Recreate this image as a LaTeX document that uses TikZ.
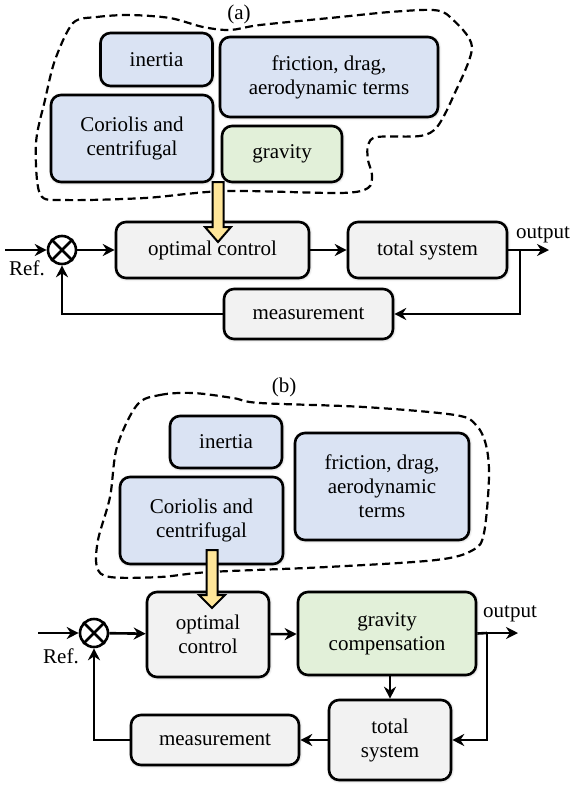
\documentclass[tikz,border=0pt]{standalone}
\usepackage{fontspec}
\setmainfont{Liberation Serif}
\newfontfamily\labelfont{Liberation Serif}
\usetikzlibrary{arrows.meta,shadows.blur}
\definecolor{blueF}{HTML}{DAE3F3}
\definecolor{greenF}{HTML}{E2F0D9}
\definecolor{greyF}{HTML}{F2F2F2}
\definecolor{yellowF}{HTML}{FFE699}
\newcommand\fatdown[4]{% x, top of shaft, base of head, tip
  \draw[fill=yellowF, line width=2pt, line join=miter]
    (#1-5.5,#2) -- (#1+5.5,#2) -- (#1+5.5,#3) -- (#1+13,#3) -- (#1,#4)
    -- (#1-13,#3) -- (#1-5.5,#3) -- cycle;}
\begin{document}
\begin{tikzpicture}[x=1pt,y=-1pt,
  font=\labelfont\fontsize{21}{24}\selectfont,
  blk/.style={draw=black, line width=2.6pt, rounded corners=10pt, align=center,
    inner sep=0pt,
    blur shadow={shadow blur steps=6, shadow xshift=0.5pt, shadow yshift=-0.5pt,
      shadow blur radius=3pt, shadow opacity=35}},
  bluebox/.style={blk, fill=blueF},
  greenbox/.style={blk, fill=greenF},
  greybox/.style={blk, fill=greyF},
  sumnode/.style={circle, draw, line width=2.6pt, fill=white, minimum size=28pt,
    inner sep=0pt},
  arr/.style={line width=2.6pt, -{Stealth[length=12pt,width=12pt]}},
  ln/.style={line width=2.6pt},
  blob/.style={line width=2.2pt, dash pattern=on 8pt off 4.5pt}]
\useasboundingbox (0,0) rectangle (570,785);

% ---------------- (a) ----------------
\node (la) at (239,14) {(a)};
\draw[blob] plot[smooth cycle, tension=0.5] coordinates {
  (73,23) (97,17) (130,15) (170,18) (203,27) (230,30) (260,25) (340,17)
  (390,12) (433,10) (450,17) (472,47) (453,97) (437,127) (420,136)
  (377,137) (368,145) (368,160) (372,175) (368,188) (340,193)
  (225,191) (145,198) (65,200) (40,194) (36,143) (45,100) (55,60)};

\node[bluebox, minimum width=112pt, minimum height=53pt] (ina) at (156.5,59.5) {inertia};
\node[bluebox, minimum width=218pt, minimum height=80pt] (fra) at (329,77)
  {friction, drag,\\aerodynamic terms};
\node[bluebox, minimum width=162pt, minimum height=87pt] (coa) at (132,138.5)
  {Coriolis and\\centrifugal};
\node[greenbox, minimum width=120pt, minimum height=56pt] (gra) at (282,154) {gravity};

\node[greybox, minimum width=193pt, minimum height=56pt] (opa) at (212.5,250) {optimal control};
\node[greybox, minimum width=159pt, minimum height=56pt] (tsa) at (427.5,250) {total system};
\node[greybox, minimum width=169pt, minimum height=50pt] (msa) at (308.5,314) {measurement};
\node[sumnode] (sa) at (62,250) {};
\draw[ln] (sa.north west) -- (sa.south east) (sa.north east) -- (sa.south west);

\fatdown{218}{182}{227}{242}

\coordinate (ina0) at (5,250);
\coordinate (outa) at (549,250);
\coordinate (bra) at (520,250);
\node (refa) at (27,268) {Ref.};
\node (opla) at (543,235) {output};

\draw[arr] (ina0) -- (sa);
\draw[arr] (sa) -- (opa);
\draw[arr] (opa) -- (tsa);
\draw[arr] (tsa) -- (outa);
\draw[arr] (bra) |- (msa.east);
\draw[arr] (msa.west) -| (sa.south);

% ---------------- (b) ----------------
\node (lb) at (284,387) {(b)};
\draw[blob] plot[smooth cycle, tension=0.55] coordinates {
  (137,405) (160,395) (193,393) (233,398) (260,403) (364,407) (455,415)
  (476,425) (486,445) (489,477) (484,533) (473,550) (436,560) (327,567)
  (210,572) (160,577) (110,577) (97,567) (98,540) (110,497) (117,447)};

\node[bluebox, minimum width=112pt, minimum height=52pt] (inb) at (226,442) {inertia};
\node[bluebox, minimum width=174pt, minimum height=107pt] (frb) at (382,486.5)
  {friction, drag,\\aerodynamic\\terms};
\node[bluebox, minimum width=163pt, minimum height=87pt] (cob) at (201.5,520.5)
  {Coriolis and\\centrifugal};

\node[greybox, minimum width=122pt, minimum height=85pt] (opb) at (208,634.5) {optimal\\control};
\node[greenbox, minimum width=178pt, minimum height=83pt] (gcb) at (387,633.5) {gravity\\compensation};
\node[greybox, minimum width=122pt, minimum height=80pt] (tsb) at (390,740) {total\\system};
\node[greybox, minimum width=168pt, minimum height=50pt] (msb) at (215,740) {measurement};
\node[sumnode] (sb) at (94,633) {};
\draw[ln] (sb.north west) -- (sb.south east) (sb.north east) -- (sb.south west);

\fatdown{212}{550}{595}{608}

\coordinate (inb0) at (38,633);
\coordinate (outb) at (518,633);
\coordinate (brb) at (487,633);
\node (refb) at (61,656) {Ref.};
\node (oplb) at (510,614) {output};

\draw[arr] (inb0) -- (sb);
\draw[arr] (sb) -- (opb);
\draw[arr] (opb) -- (gcb);
\draw[ln] (gcb.east) -- (brb);
\draw[arr] (brb) -- (outb);
\draw[arr] (gcb.south -| tsb.north) -- (tsb.north);
\draw[arr] (brb) |- (tsb.east);
\draw[arr] (tsb.west) -- (msb.east);
\draw[arr] (msb.west) -| (sb.south);
\end{tikzpicture}
\end{document}
